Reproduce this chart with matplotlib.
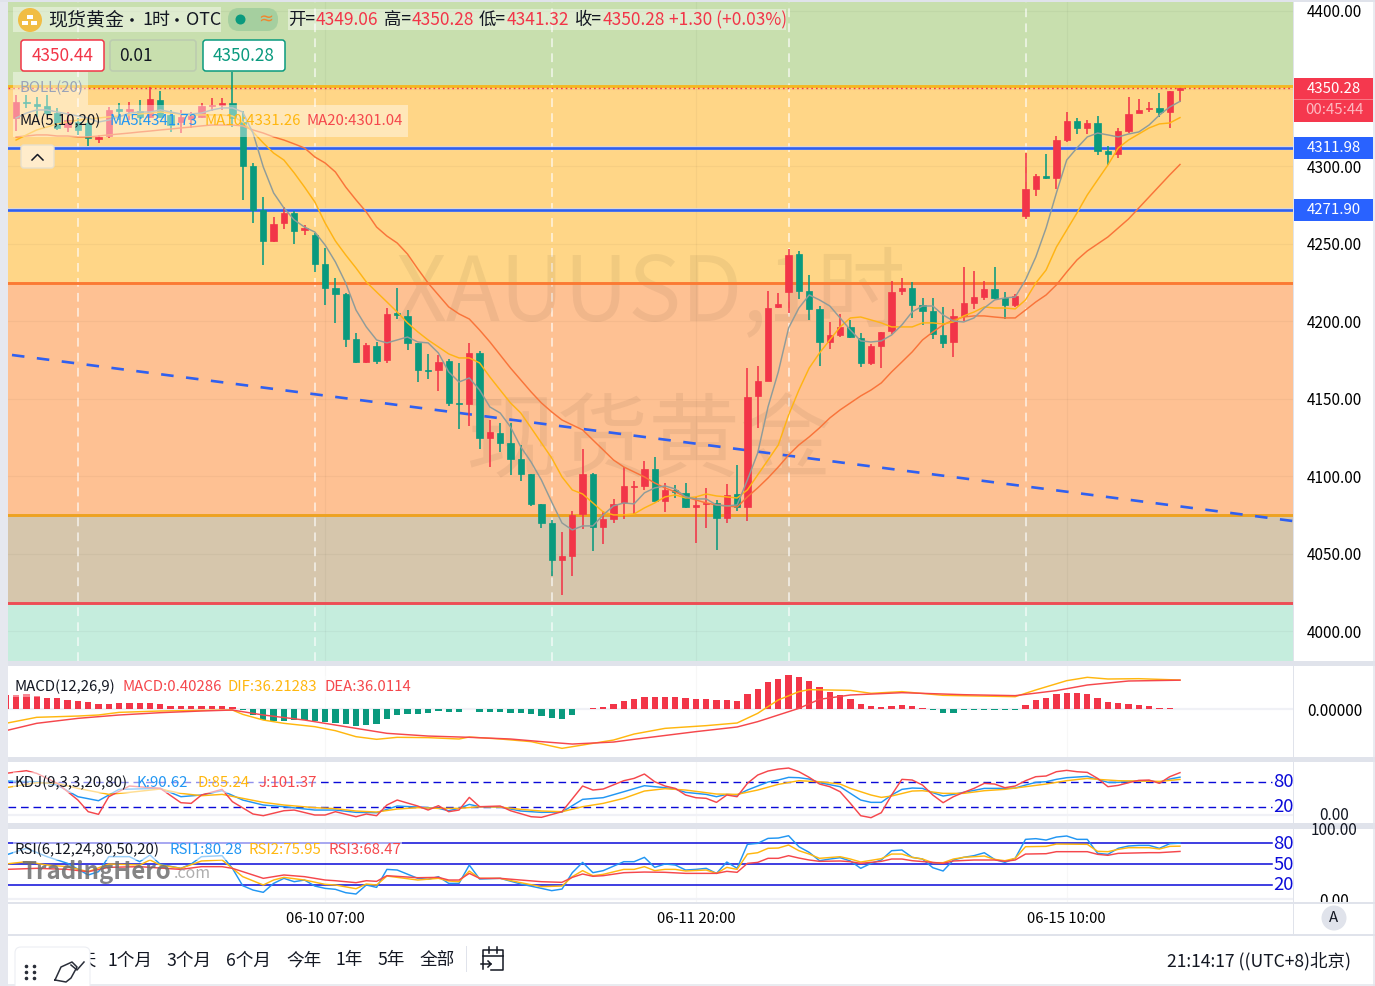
import matplotlib
matplotlib.use("Agg")
import matplotlib.pyplot as plt
import numpy as np
from matplotlib.patches import Rectangle, Circle, FancyBboxPatch

plt.rcParams['font.family'] = ['Noto Sans CJK SC', 'DejaVu Sans']
plt.rcParams['axes.unicode_minus'] = False

# hourly candles, XAUUSD
opens = [4331.0,4341.3,4340.0,4338.8,4334.2,4325.2,4328.4,4327.8,4317.7,4319.4,
	4336.5,4335.5,4335.5,4331.9,4342.6,4332.9,4328.4,4330.4,4331.7,4338.9,
	4339.7,4340.7,4328.4,4300.3,4271.7,4251.9,4263.3,4269.8,4258.8,4255.6,
	4236.9,4221.6,4217.8,4188.5,4173.7,4184.2,4175.0,4205.1,4203.4,4185.8,
	4168.6,4168.7,4174.2,4147.1,4146.8,4179.3,4124.5,4128.1,4121.3,4111.2,
	4101.3,4082.2,4070.1,4046.1,4048.6,4075.7,4101.5,4067.5,4072.5,4082.6,
	4093.3,4094.0,4104.5,4084.1,4091.2,4089.1,4080.2,4082.0,4082.6,4073.1,
	4088.4,4080.1,4151.8,4161.7,4209.0,4219.0,4243.1,4219.5,4207.9,4186.6,
	4191.1,4196.5,4189.4,4173.2,4184.2,4193.9,4219.5,4221.2,4210.7,4206.6,
	4191.1,4186.8,4203.4,4211.6,4215.6,4220.8,4215.0,4210.3,4267.8,4285.2,
	4293.4,4292.3,4316.6,4329.1,4324.8,4327.8,4309.7,4308.0,4322.6,4334.0,
	4336.6,4337.5,4335.1,4349.06]
closes = [4341.5,4340.7,4338.9,4334.4,4324.6,4329.7,4323.3,4317.8,4319.0,4336.2,
	4335.7,4336.5,4331.9,4343.3,4331.7,4326.5,4331.7,4332.3,4338.8,4339.7,
	4340.7,4331.0,4300.3,4271.7,4251.9,4262.7,4269.8,4258.2,4260.1,4236.9,
	4221.6,4217.8,4188.7,4173.9,4184.5,4174.4,4204.7,4203.8,4186.2,4168.6,
	4168.1,4173.9,4147.1,4146.4,4179.3,4124.5,4128.6,4121.7,4111.4,4101.3,
	4082.2,4070.1,4046.1,4048.6,4075.3,4101.5,4067.5,4072.3,4082.2,4093.8,
	4094.0,4104.5,4084.1,4091.2,4089.7,4080.1,4081.3,4082.6,4073.1,4088.0,
	4080.1,4151.3,4161.5,4208.7,4210.9,4242.7,4219.7,4207.9,4186.6,4191.1,
	4196.5,4189.6,4173.2,4184.0,4193.2,4218.8,4221.2,4210.7,4206.8,4191.6,
	4185.8,4203.4,4211.6,4215.4,4220.8,4215.2,4210.4,4216.3,4285.0,4293.6,
	4292.5,4316.6,4329.3,4324.8,4327.8,4309.9,4308.0,4322.6,4333.8,4336.2,
	4337.5,4334.9,4348.4,4350.28]
highs = [4345.8,4345.8,4344.6,4345.8,4337.5,4334.9,4331.0,4331.0,4320.1,4338.3,
	4340.7,4341.3,4342.6,4351.0,4348.4,4336.2,4336.2,4334.9,4340.7,4343.6,
	4343.9,4360.7,4335.5,4302.0,4280.3,4267.4,4273.8,4271.2,4262.0,4256.9,
	4247.2,4227.9,4218.2,4192.4,4186.0,4186.8,4208.5,4221.2,4207.2,4186.2,
	4178.9,4178.0,4175.5,4173.2,4185.8,4180.6,4136.3,4134.6,4134.6,4120.0,
	4101.5,4082.2,4071.8,4064.1,4077.5,4117.4,4102.0,4077.8,4085.6,4105.8,
	4096.8,4110.1,4112.3,4095.9,4094.2,4095.5,4086.5,4092.3,4084.7,4095.0,
	4107.1,4169.6,4171.1,4219.5,4218.0,4246.4,4245.3,4229.8,4210.0,4199.5,
	4204.5,4200.8,4192.2,4185.3,4193.2,4225.7,4227.7,4225.1,4214.8,4214.8,
	4209.4,4207.9,4235.2,4232.4,4225.9,4235.2,4218.6,4217.4,4308.7,4294.9,
	4307.8,4319.4,4334.9,4330.8,4329.7,4332.5,4313.0,4324.8,4344.7,4343.1,
	4341.3,4346.9,4348.6,4350.28]
lows = [4322.6,4337.5,4331.7,4332.9,4323.3,4322.0,4320.1,4313.0,4314.9,4318.1,
	4329.7,4329.7,4326.5,4331.0,4331.0,4322.0,4321.3,4324.6,4331.0,4335.5,
	4336.2,4325.2,4278.1,4263.3,4236.2,4251.3,4259.5,4249.8,4255.6,4231.9,
	4210.4,4199.0,4183.6,4173.2,4173.2,4172.4,4173.2,4201.4,4181.4,4161.0,
	4162.7,4155.2,4145.5,4130.3,4132.6,4117.6,4106.2,4115.7,4100.7,4096.8,
	4081.1,4066.9,4035.7,4023.5,4035.7,4066.2,4052.0,4056.4,4069.7,4072.7,
	4075.7,4091.2,4084.1,4077.0,4086.2,4079.6,4057.2,4066.7,4052.5,4070.1,
	4077.8,4071.4,4131.0,4161.7,4208.3,4205.1,4214.1,4200.8,4171.3,4182.3,
	4189.6,4189.0,4170.7,4172.0,4170.0,4191.8,4217.1,4201.9,4197.4,4188.3,
	4182.5,4177.1,4200.3,4207.9,4213.7,4214.1,4201.6,4209.4,4265.7,4280.9,
	4291.7,4285.0,4315.7,4320.7,4320.7,4307.4,4300.7,4305.2,4321.5,4334.0,
	4335.1,4331.9,4324.4,4341.32]

ma5 = [4331.0,4334.2,4336.2,4336.2,4334.9,4333.6,4332.3,4331.0,4328.4,4329.7,
	4331.7,4334.2,4334.9,4334.9,4336.2,4334.9,4333.6,4333.6,4334.2,4336.2,
	4337.5,4337.5,4334.9,4321.3,4299.4,4282.7,4273.0,4265.3,4260.7,4257.5,
	4249.1,4238.2,4224.6,4207.2,4196.3,4187.9,4186.0,4187.9,4189.8,4186.6,
	4186.0,4179.5,4167.3,4160.8,4163.4,4155.6,4144.7,4140.8,4131.8,4118.9,
	4109.2,4097.6,4083.4,4069.9,4065.4,4068.0,4068.0,4075.1,4080.9,4082.8,
	4082.2,4089.3,4092.5,4093.8,4091.8,4086.7,4085.4,4085.4,4081.5,4080.9,
	4081.5,4097.6,4115.0,4144.7,4167.3,4195.6,4208.5,4216.9,4213.7,4209.8,
	4202.1,4194.3,4187.3,4186.6,4187.3,4191.1,4197.6,4206.0,4209.8,4209.8,
	4204.0,4200.1,4199.5,4202.1,4208.5,4213.7,4215.0,4215.6,4226.6,4241.4,
	4260.1,4282.7,4303.9,4311.7,4318.8,4321.3,4320.1,4318.8,4320.7,4322.0,
	4326.5,4332.9,4338.1,4341.73]
ma10 = [4316.8,4320.1,4323.3,4325.2,4327.2,4328.4,4329.7,4330.4,4331.0,4331.7,
	4332.3,4333.0,4333.6,4334.2,4334.9,4334.2,4333.6,4333.0,4333.0,4333.0,
	4333.0,4332.3,4328.4,4322.0,4314.9,4308.4,4303.9,4295.6,4286.5,4276.9,
	4263.3,4251.7,4242.7,4234.3,4225.3,4218.8,4212.4,4205.9,4198.9,4193.1,
	4187.9,4183.4,4178.9,4176.3,4176.3,4173.1,4164.0,4155.6,4147.3,4140.8,
	4131.2,4121.5,4111.8,4099.6,4091.2,4088.6,4082.8,4077.0,4075.1,4075.1,
	4075.7,4079.6,4082.8,4086.7,4088.0,4086.0,4086.7,4088.6,4087.3,4086.7,
	4086.0,4091.2,4100.9,4110.5,4120.2,4139.5,4155.6,4169.8,4179.5,4187.9,
	4196.3,4202.1,4202.7,4200.8,4198.9,4196.3,4196.3,4196.3,4198.9,4198.9,
	4198.2,4199.5,4203.4,4205.9,4209.2,4208.5,4208.5,4207.9,4213.7,4224.6,
	4233.0,4247.8,4258.8,4269.8,4281.4,4291.1,4300.7,4311.7,4316.8,4320.7,
	4324.6,4327.2,4327.8,4331.26]
ma20 = [4318.8,4319.4,4320.1,4320.1,4319.4,4319.4,4318.8,4318.8,4319.4,4320.1,
	4320.7,4321.3,4322.0,4322.6,4323.3,4323.9,4324.6,4325.2,4325.9,4326.5,
	4326.5,4326.5,4325.9,4323.3,4321.3,4318.8,4316.8,4314.3,4311.7,4305.9,
	4302.0,4296.2,4286.5,4278.2,4270.4,4260.7,4254.9,4250.4,4243.3,4233.7,
	4224.6,4216.9,4209.2,4204.7,4201.4,4194.3,4186.6,4178.2,4169.8,4162.1,
	4154.4,4147.3,4141.5,4136.3,4133.1,4129.9,4123.4,4117.0,4110.5,4106.0,
	4102.8,4099.6,4095.7,4092.5,4089.9,4086.7,4084.7,4082.8,4081.5,4080.9,
	4080.2,4086.7,4092.5,4098.9,4106.0,4113.7,4120.2,4125.4,4131.2,4137.6,
	4142.8,4147.3,4151.8,4155.6,4160.2,4167.3,4173.7,4180.2,4187.9,4193.0,
	4197.6,4200.8,4202.7,4203.4,4203.4,4202.7,4202.1,4202.1,4207.2,4212.4,
	4216.9,4223.4,4231.7,4239.5,4245.3,4249.8,4254.3,4260.1,4265.9,4273.0,
	4280.1,4287.2,4294.3,4301.04]

macd_hist = [17.5,18.3,16.7,14.2,13.3,11.3,10.0,8.3,6.7,6.7,7.5,7.5,7.5,7.5,5.8,4.2,3.3,3.8,3.8,4.2,
	4.2,2.9,-1.3,-7.5,-13.8,-15.0,-15.0,-13.8,-13.8,-14.6,-16.3,-17.9,-18.8,-21.3,-20.0,-18.8,-12.9,-7.5,-5.8,-5.8,
	-5.4,-2.5,-4.2,-4.2,0.4,-3.3,-3.3,-4.2,-4.6,-5.4,-6.7,-9.2,-11.7,-12.1,-7.5,0.4,0.8,2.5,5.8,10.0,
	12.5,15.4,15.4,15.4,15.4,13.3,12.5,12.1,10.8,10.8,10.0,18.8,24.6,33.3,37.5,42.5,40.4,35.4,27.9,21.7,
	17.5,12.5,6.3,3.3,2.1,4.2,5.0,3.3,0.8,-1.3,-4.6,-4.6,-1.3,-1.3,-1.3,-1.3,-1.3,-1.3,5.0,11.3,
	13.3,18.3,20.4,19.6,18.3,13.3,8.8,7.5,6.3,4.6,3.3,0.8,0.8,0.40]
macd_dif = [(-1,-17.9),(2,-10.4),(6,-8.8),(8,-7.5),(10,-4.2),(14,-2.5),(18,-1.7),(21,-1.3),(22,-6.7),(24,-13.8),
	(26,-17.9),(29,-22.1),(31,-27.1),(33,-34.6),(35,-37.9),(37,-35.4),(40,-35.8),(43,-37.5),(44,-35.0),(47,-37.5),
	(50,-40.8),(53,-49.2),(55,-45.0),(58,-38.8),(60,-31.3),(63,-24.2),(67,-20.8),(70,-17.5),(72,-5.4),(74,11.3),
	(76,21.7),(77,24.2),(81,23.3),(83,19.6),(86,21.7),(90,17.1),(97,15.4),(99,23.8),(102,35.4),(104,39.6),
	(106,37.5),(109,37.9),(113,36.21)]
macd_dea = [(-1,-27.1),(2,-17.9),(6,-11.7),(10,-7.5),(14,-4.6),(18,-2.5),(21,-1.3),(24,-7.5),(28,-13.8),(32,-22.1),
	(36,-30.4),(40,-33.8),(44,-35.4),(48,-37.5),(51,-40.8),(54,-43.8),(58,-41.3),(60,-37.9),(66,-28.3),(70,-22.5),
	(72,-15.8),(76,0.8),(78,12.1),(81,17.5),(86,20.4),(92,17.9),(97,16.7),(101,23.0),(104,30.0),(108,35.0),(113,36.01)]

kdj_k = [(-1,81.5),(2,79.9),(4,72.0),(6,44.4),(8,34.9),(10,61.8),(14,64.1),(16,44.4),(18,48.4),(20,58.6),
	(22,36.5),(24,24.7),(26,20.7),(29,12.8),(31,12.8),(33,7.3),(35,6.5),(37,22.3),(39,19.9),(41,16.8),
	(42,11.2),(43,16.8),(44,26.2),(45,20.7),(47,19.9),(49,10.5),(51,7.3),(53,8.1),(55,38.1),(57,42.1),
	(59,56.2),(61,70.5),(63,65.7),(64,62.6),(65,54.7),(67,49.9),(68,44.4),(69,49.9),(70,48.4),(71,60.2),
	(72,69.7),(73,79.1),(74,83.9),(75,90.2),(76,89.4),(77,86.2),(78,77.6),(80,68.1),(81,52.3),(82,36.5),
	(83,31.0),(84,31.0),(85,48.4),(86,61.8),(87,64.9),(88,64.1),(89,53.9),(90,46.0),(91,49.9),(92,54.7),
	(94,64.1),(96,64.1),(97,64.9),(98,72.0),(99,78.4),(100,79.9),(101,85.5),(102,89.4),(104,92.6),(105,85.5),
	(106,78.4),(107,78.4),(108,80.7),(110,82.3),(111,78.4),(112,86.2),(113,90.62)]
kdj_d = [(-1,65.7),(2,77.6),(4,76.0),(6,64.1),(9,49.9),(11,54.7),(14,62.6),(16,52.3),(18,46.8),(20,49.9),
	(22,40.5),(24,31.0),(26,24.7),(29,18.4),(31,16.0),(33,10.5),(35,8.1),(37,15.2),(39,18.4),(41,16.8),
	(43,16.8),(45,20.7),(47,19.9),(49,14.4),(51,10.5),(53,8.9),(55,20.7),(57,28.6),(59,40.5),(61,57.8),
	(63,63.4),(65,60.2),(67,53.9),(68,50.7),(70,49.9),(72,60.2),(74,73.6),(76,82.3),(78,79.9),(80,74.4),
	(81,64.1),(83,48.4),(84,42.8),(85,46.0),(87,57.8),(88,58.6),(90,52.3),(92,52.3),(94,58.6),(96,61.8),
	(98,68.1),(100,74.4),(102,82.3),(104,87.8),(105,85.5),(107,82.3),(109,81.5),(111,80.7),(113,85.24)]
kdj_j = [(-1,99.7),(1,106.0),(2,99.7),(4,76.0),(6,36.5),(7,8.9),(8,2.6),(9,44.4),(11,69.7),(14,64.1),
	(16,30.2),(17,28.6),(18,48.4),(20,61.8),(21,32.6),(23,3.4),(24,-0.6),(26,11.2),(27,12.8),(29,1.0),
	(30,1.0),(31,8.9),(33,-3.0),(34,3.4),(35,-0.6),(36,24.7),(37,36.5),(39,22.3),(40,12.8),(41,23.1),
	(42,8.9),(43,12.8),(44,42.8),(45,20.7),(47,22.3),(48,11.2),(50,-3.0),(51,-4.5),(53,8.9),(55,69.7),
	(56,60.2),(57,62.6),(59,82.3),(60,87.8),(61,98.1),(62,79.9),(63,69.7),(64,64.1),(65,48.4),(66,42.0),
	(67,40.5),(68,31.0),(69,48.4),(70,44.4),(71,76.0),(72,95.7),(73,105.2),(74,109.9),(75,112.3),(76,103.6),
	(77,90.2),(78,74.4),(79,68.1),(80,56.2),(81,28.6),(82,-0.6),(83,-5.3),(84,6.5),(85,48.4),(86,85.5),
	(87,83.9),(88,72.0),(89,48.4),(90,30.2),(91,44.4),(92,54.7),(93,64.1),(94,76.0),(95,74.4),(96,65.7),
	(97,69.7),(98,82.3),(99,91.8),(100,93.4),(101,103.6),(102,106.8),(103,103.6),(104,102.0),(105,87.8),(106,68.1),
	(107,71.2),(108,77.6),(109,83.1),(110,83.9),(111,76.0),(112,91.8),(113,101.37)]

rsi1 = [(-1,63.3),(1,72.9),(3,61.0),(5,51.4),(7,34.8),(8,39.5),(9,61.0),(11,61.0),(12,53.8),(13,63.3),
	(14,50.0),(16,44.3),(17,50.5),(18,61.0),(20,62.4),(21,44.3),(22,19.5),(23,13.3),(24,10.0),(25,22.8),
	(26,30.0),(27,25.2),(28,27.6),(29,19.0),(30,15.7),(31,14.3),(32,9.5),(33,7.6),(34,20.5),(35,17.1),
	(36,42.8),(37,41.9),(39,30.0),(40,28.6),(41,32.4),(42,22.8),(43,22.8),(44,49.0),(45,29.0),(47,30.0),
	(49,21.9),(51,15.7),(52,12.4),(53,14.7),(54,38.1),(55,52.8),(56,38.1),(57,41.0),(59,53.8),(60,53.8),
	(61,60.0),(62,45.7),(63,50.5),(64,49.0),(65,41.9),(66,42.8),(67,44.3),(68,37.1),(69,53.3),(70,44.3),
	(71,78.6),(72,80.0),(73,87.1),(74,87.6),(75,90.9),(76,75.2),(77,67.1),(78,55.2),(79,57.6),(80,59.5),
	(81,54.8),(82,44.3),(83,51.4),(84,56.2),(85,69.5),(86,70.5),(87,60.0),(88,57.6),(89,45.2),(90,40.5),
	(91,56.2),(92,60.0),(93,62.4),(94,66.6),(95,57.1),(96,52.8),(97,58.6),(98,85.7),(99,86.7),(100,84.7),
	(101,89.0),(102,90.5),(103,85.7),(104,85.7),(105,65.7),(106,64.3),(107,72.9),(108,76.2),(109,77.1),(110,77.1),
	(111,72.9),(112,79.5),(113,80.28)]
rsi2 = [(-1,50.5),(1,53.8),(3,49.0),(5,46.7),(7,39.5),(9,50.5),(12,49.0),(13,56.2),(14,49.0),(16,44.3),
	(18,54.8),(20,56.2),(21,44.3),(22,32.4),(24,20.5),(25,27.6),(26,31.4),(28,27.6),(30,21.4),(31,20.5),
	(33,15.2),(34,21.9),(35,20.5),(36,33.3),(39,27.6),(41,30.0),(42,26.2),(43,25.2),(44,40.5),(45,30.0),
	(47,30.0),(49,23.8),(51,18.1),(53,19.0),(54,32.4),(55,41.0),(56,33.8),(57,35.7),(59,42.8),(60,42.8),
	(61,46.7),(62,41.0),(63,42.8),(64,42.8),(65,40.5),(67,41.9),(68,37.1),(69,45.7),(70,42.8),(71,64.7),
	(72,66.6),(73,72.9),(74,73.3),(75,77.6),(76,69.5),(77,64.7),(78,58.6),(80,60.9),(81,57.6),(82,53.3),
	(84,58.1),(85,64.7),(86,64.7),(87,60.0),(88,57.6),(89,52.4),(90,52.4),(91,57.6),(92,60.0),(94,61.9),
	(95,57.1),(96,55.2),(97,58.6),(98,75.2),(100,75.7),(101,79.0),(104,78.6),(105,68.6),(106,68.1),(107,71.4),
	(108,73.8),(110,73.8),(111,71.9),(112,75.7),(113,75.95)]
rsi3 = [(-1,42.8),(2,44.3),(5,42.8),(7,39.5),(9,45.7),(12,46.7),(14,44.7),(16,42.8),(18,46.7),(20,46.7),
	(21,44.3),(23,34.8),(24,30.0),(26,34.8),(28,32.4),(30,27.6),(31,26.6),(33,23.8),(34,26.6),(35,25.7),
	(36,33.8),(39,30.9),(41,31.4),(42,27.6),(43,27.6),(44,37.1),(45,30.0),(47,30.0),(49,27.6),(51,25.2),
	(53,24.3),(54,31.4),(55,36.2),(56,32.9),(57,33.8),(59,38.1),(61,39.0),(63,38.6),(65,37.1),(68,37.1),
	(69,40.0),(70,38.6),(71,51.4),(72,52.8),(73,58.6),(74,58.6),(75,62.4),(76,59.0),(77,56.2),(78,54.3),
	(80,54.8),(81,53.8),(82,51.4),(84,54.3),(85,57.6),(86,57.6),(87,55.2),(89,52.8),(90,51.4),(91,54.8),
	(93,56.2),(95,56.2),(96,54.3),(97,56.2),(98,64.7),(100,65.2),(101,68.1),(104,68.1),(105,64.3),(106,62.9),
	(107,65.7),(110,66.7),(111,66.7),(113,68.47)]

# drawn levels and bands
band_edges = [4405.8, 4351.8, 4224.3, 4074.9, 4018.0, 3980.9]
band_colors = ['#c8dfae', '#ffd687', '#fec193', '#d6c6ac', '#c5eddd']
level_prices = [4351.8, 4224.3, 4074.9, 4018.0]
level_colors = ['#f4b822', '#fb7a33', '#eda221', '#ee4d55']
support_prices = [4311.98, 4271.90]
last_price = 4350.28
trend_x = [-0.4, 123.9]
trend_y = [4178.2, 4071.2]
price_ticks = [4000, 4050, 4100, 4150, 4200, 4250, 4300, 4350, 4400]
day_breaks = [6, 29, 52, 75, 98]
time_ticks = [30, 66, 102]
time_labels = ['06-10 07:00', '06-11 20:00', '06-15 10:00']

RED = '#f23548'
GREEN = '#0a9a7e'
BLUE = '#2196f3'
GOLD = '#ffb70f'
LINE_RED = '#f5474c'
SEP = '#e0e3eb'
W, H = 1375, 986

fig = plt.figure(figsize=(W / 100, H / 100), dpi=100, facecolor='white')


def pane(x0, y0, x1, y1, ylim):
	ax = fig.add_axes([x0 / W, 1 - y1 / H, (x1 - x0) / W, (y1 - y0) / H])
	ax.set_xlim((8 - 16.1) / 10.3, (1293 - 16.1) / 10.3)
	ax.set_ylim(*ylim)
	for s in ax.spines.values():
		s.set_visible(False)
	ax.set_xticks([])
	ax.yaxis.tick_right()
	ax.tick_params(axis='y', length=0, pad=29.8, labelsize=11)
	return ax


def draw_pairs(ax, pairs, color, lw=1.05):
	xs = [p[0] for p in pairs]
	ys = [p[1] for p in pairs]
	ax.plot(xs, ys, color=color, lw=lw, zorder=4, solid_joinstyle='round')


def center_ticks(ax):
	for lbl in ax.get_yticklabels():
		lbl.set_ha('center')


idx = np.arange(len(closes))

# main price pane
ax = pane(8, 2, 1293, 661, (3980.9, 4405.8))
for i in range(len(band_colors)):
	ax.axhspan(band_edges[i + 1], band_edges[i], color=band_colors[i], lw=0, zorder=0)
for p in price_ticks:
	ax.axhline(p, color='#000000', alpha=0.035, lw=0.9, zorder=0.5)
for t in time_ticks:
	ax.axvline(t, color='#000000', alpha=0.035, lw=0.9, zorder=0.5)
for d in day_breaks:
	ax.axvline(d, color='#ffffff', alpha=0.6, lw=1.4, dashes=(4.5, 3.2), zorder=0.6)

ax.text(36.8, 4200.8, 'XAUUSD,1时', fontsize=64, color='#000000', alpha=0.055, ha='left', va='baseline', zorder=0.7)
ax.text(43.6, 4104, '现货黄金', fontsize=66, color='#000000', alpha=0.055, ha='left', va='baseline', zorder=0.7)

for p, c in zip(level_prices, level_colors):
	ax.axhline(p, color=c, lw=2.1, zorder=1)
for p in support_prices:
	ax.axhline(p, color='#cfd8f5', lw=3.0, alpha=0.7, zorder=1)
	ax.axhline(p, color='#2f60f0', lw=1.9, zorder=1.1)
ax.plot(trend_x, trend_y, color='#2f60f0', lw=1.9, dashes=(4.75, 4.75), zorder=1.2)
ax.axhline(last_price, color='#f23548', lw=1.0, dashes=(1.2, 2.2), zorder=1.3)

colors = [RED if c >= o else GREEN for o, c in zip(opens, closes)]
ax.vlines(idx, lows, highs, colors=colors, lw=1.15, zorder=2)
bottoms = [min(o, c) for o, c in zip(opens, closes)]
heights = [abs(o - c) for o, c in zip(opens, closes)]
ax.bar(idx, heights, bottom=bottoms, width=0.62, color=colors, edgecolor=colors, lw=0.5, zorder=3)

ax.plot(idx, ma20, color='#f9743a', lw=1.05, zorder=4)
ax.plot(idx, ma10, color='#ffb414', lw=1.05, zorder=4)
ax.plot(idx, ma5, color='#8f9c9a', lw=1.05, zorder=4)

# 4350 sits under the last-price tag, so it gets no number
ax.set_yticks(price_ticks)
ax.set_yticklabels(['' if p == 4350 else '%.2f' % p for p in price_ticks])
center_ticks(ax)

# MACD pane
ax_macd = pane(8, 666, 1293, 757, (-60, 53.75))
ax_macd.axhline(0, color='#f0f1f6', lw=1.6, zorder=1)
hist_colors = [RED if v >= 0 else GREEN for v in macd_hist]
ax_macd.bar(idx, macd_hist, width=0.62, color=hist_colors, lw=0, zorder=2)
# bars left of the first candle, the series runs off the pane edge
ax_macd.bar([-1], [17.5], width=0.62, color=RED, lw=0, zorder=2)
draw_pairs(ax_macd, macd_dif, GOLD)
draw_pairs(ax_macd, macd_dea, LINE_RED)
ax_macd.set_yticks([0])
ax_macd.set_yticklabels(['0.00000'])
center_ticks(ax_macd)
for t in time_ticks:
	ax_macd.axvline(t, color='#000000', alpha=0.03, lw=0.9, zorder=0.5)

# KDJ pane
ax_kdj = pane(8, 762, 1293, 823, (-17.9, 126.6))
ax_kdj.axhline(0, color='#f0f1f6', lw=1.6, zorder=1)
for lvl in [80, 20]:
	ax_kdj.plot([-0.8, 121.9], [lvl, lvl], color='#0a0ad8', lw=1.0, dashes=(5.5, 3.5), zorder=2)
draw_pairs(ax_kdj, kdj_k, BLUE)
draw_pairs(ax_kdj, kdj_d, GOLD)
draw_pairs(ax_kdj, kdj_j, LINE_RED)
ax_kdj.set_yticks([])
for t in time_ticks:
	ax_kdj.axvline(t, color='#000000', alpha=0.03, lw=0.9, zorder=0.5)

# RSI pane
ax_rsi = pane(8, 829, 1293, 902, (-3.8, 100.5))
ax_rsi.axhline(0, color='#f0f1f6', lw=1.6, zorder=1)
for lvl in [80, 50, 20]:
	ax_rsi.plot([-0.8, 121.9], [lvl, lvl], color='#0a0ad8', lw=1.1, zorder=2)
draw_pairs(ax_rsi, rsi1, BLUE)
draw_pairs(ax_rsi, rsi2, GOLD)
draw_pairs(ax_rsi, rsi3, LINE_RED)
ax_rsi.set_yticks([0])
ax_rsi.set_yticklabels(['0.00'])
center_ticks(ax_rsi)
for t in time_ticks:
	ax_rsi.axvline(t, color='#000000', alpha=0.03, lw=0.9, zorder=0.5)

# time axis strip sits over the bottom of the RSI labels
ax_time = pane(8, 903, 1375, 934, (0, 1))
ax_time.set_xlim((8 - 16.1) / 10.3, (1375 - 16.1) / 10.3)
ax_time.set_zorder(5)
ax_time.set_yticks([])
ax_time.set_xticks(time_ticks)
ax_time.set_xticklabels(time_labels, fontsize=10.7)
ax_time.tick_params(axis='x', length=0, pad=-16)

# overlay in pixel units for the chart furniture and legends
ov = fig.add_axes([0, 0, 1, 1], zorder=10)
ov.set_xlim(0, W)
ov.set_ylim(H, 0)
ov.axis('off')
ov.patch.set_alpha(0)


def rect(x0, y0, x1, y1, color, alpha=1.0, z=1):
	ov.add_patch(Rectangle((x0, y0), x1 - x0, y1 - y0, facecolor=color, edgecolor='none', alpha=alpha, zorder=z))


def rbox(x0, y0, x1, y1, face, edge, alpha=1.0, r=3, lw=1.0, z=2):
	ov.add_patch(FancyBboxPatch((x0 + r, y0 + r), x1 - x0 - 2 * r, y1 - y0 - 2 * r, boxstyle='round,pad=%d,rounding_size=%d' % (r, r),
		facecolor=face, edgecolor=edge, alpha=alpha, lw=lw, zorder=z))


def label(x, y, s, color='#131722', size=15, ha='left', z=5, **kw):
	ov.text(x, y + 1, s, color=color, fontsize=size * 0.72, ha=ha, va='center', zorder=z, **kw)


# separators
rect(0, 0, 1375, 2, SEP)
rect(0, 0, 8, 986, SEP, 0.8)
rect(8, 661, 1375, 666, SEP)
rect(8, 757, 1375, 762, SEP)
rect(8, 823, 1375, 829, SEP)
rect(8, 902, 1375, 904, SEP)
rect(8, 934, 1375, 936, SEP)
rect(1293, 0, 1294.5, 934, SEP)
rect(1373, 0, 1375, 986, SEP, 0.7)
rect(8, 984, 1375, 986, SEP, 0.7)

# translucent legend backs
rect(13, 7, 221, 32, '#ffffff', 0.42)
rect(288, 9, 786, 30, '#ffffff', 0.42)
rect(13, 72, 88, 105, '#ffffff', 0.42)
rect(13, 105, 408, 137, '#ffffff', 0.42)
rect(13, 676, 410, 697, '#ffffff', 0.42)
rect(13, 772, 320, 793, '#ffffff', 0.55)
rect(13, 840, 402, 860, '#ffffff', 0.55)

# symbol header
ov.add_patch(Circle((30, 20), 12, facecolor='#f1bd44', edgecolor='none', zorder=3))
rect(27, 15, 33, 19, '#ffffff', z=4)
rect(22.5, 21, 28.5, 25, '#ffffff', z=4)
rect(31, 21, 37, 25, '#ffffff', z=4)
label(48, 19, '现货黄金', size=19)
ov.add_patch(Circle((132, 20), 1.8, facecolor='#131722', edgecolor='none', zorder=5))
label(142, 19, '1时', size=18)
ov.add_patch(Circle((177, 20), 1.8, facecolor='#131722', edgecolor='none', zorder=5))
label(186, 19, 'OTC', size=18)
rbox(228, 8, 278, 31, '#a5cf9f', 'none', r=11, lw=0)
ov.add_patch(Circle((240.5, 19.5), 5, facecolor='#0a9a7e', edgecolor='none', zorder=3))
label(266, 18, '≈', color='#f0862e', size=18, ha='center', family=['DejaVu Sans'])
for x, s in zip([288, 384, 479, 575], ['开=', '高=', '低=', '收=']):
	label(x, 19, s, size=17.4)
for x, s in zip([316, 412, 507, 603, 669], ['4349.06', '4350.28', '4341.32', '4350.28', '+1.30 (+0.03%)']):
	label(x, 19, s, color=RED, size=17.4)

# bid, spread, ask
rbox(21, 40, 104, 71, '#ffffff', RED, r=3, lw=1.1)
label(62.5, 55, '4350.44', color=RED, size=17.2, ha='center')
rbox(110, 40, 196, 71, 'none', '#bccbb0', r=3, lw=1.1)
label(119, 55, '0.01', size=17.2)
rbox(203, 40, 285, 71, '#ffffff', GREEN, r=3, lw=1.1)
label(244, 55, '4350.28', color=GREEN, size=17.2, ha='center')

# indicator legends
label(20, 87, 'BOLL(20)', color='#9aa3b8')
label(20, 120, 'MA(5,10,20)')
label(110, 120, 'MA5:4341.73', color=BLUE)
label(205, 120, 'MA10:4331.26', color=GOLD)
label(307, 120, 'MA20:4301.04', color=LINE_RED)
rbox(21, 145, 54, 168, '#ffeccb', '#e8e0cd', r=3, lw=1.0)
ov.plot([32, 37.5, 43], [160, 154.5, 160], color='#131722', lw=1.1, zorder=5)

label(15, 686, 'MACD(12,26,9)')
label(123, 686, 'MACD:0.40286', color=LINE_RED)
label(228, 686, 'DIF:36.21283', color=GOLD)
label(325, 686, 'DEA:36.0114', color=LINE_RED)
label(15, 782, 'KDJ(9,3,3,20,80)')
label(137, 782, 'K:90.62', color=BLUE)
label(198, 782, 'D:85.24', color=GOLD)
label(258, 782, 'J:101.37', color=LINE_RED)
label(15, 849, 'RSI(6,12,24,80,50,20)')
label(170, 849, 'RSI1:80.28', color=BLUE)
label(249, 849, 'RSI2:75.95', color=GOLD)
label(329, 849, 'RSI3:68.47', color=LINE_RED)

# level numbers drawn inside the indicator panes
for y, s in zip([781, 806, 843, 864, 884.5], ['80', '20', '80', '50', '20']):
	label(1283.5, y, s, color='#0a0ad8', size=18.5, ha='center')
label(1334, 814, '0.00', size=15.2, ha='center')
label(1334, 829.5, '100.00', size=15.2, ha='center')

# site mark over the RSI pane
label(21, 871, 'TradingHero', color='#6e6e6e', size=24, z=3, fontweight='bold', alpha=0.85)
label(174, 873, '.com', color='#9a9a9a', size=16, z=3, alpha=0.8)

# price tags on the axis
rect(1294, 78, 1373, 122, '#f5384e')
rect(1294, 99, 1373, 99.8, '#f97a86')
label(1334, 88, '4350.28', color='#ffffff', ha='center')
label(1334, 109.5, '00:45:44', color='#fdb8c0', ha='center')
rect(1294, 137, 1373, 159, '#2962ff')
label(1334, 147, '4311.98', color='#ffffff', ha='center')
rect(1294, 199, 1373, 221, '#2962ff')
label(1334, 209, '4271.90', color='#ffffff', ha='center')

ov.add_patch(Circle((1334, 918), 12.5, facecolor=SEP, edgecolor='none', zorder=3))
label(1334, 916.5, 'A', ha='center', size=15)

# toolbar at the bottom
for x, s in zip([130.5, 189.5, 248.5, 304, 349, 391, 437], ['1个月', '3个月', '6个月', '今年', '1年', '5年', '全部']):
	label(x, 959.5, s, size=17.6, ha='center')
label(83, 959.5, '5天', size=17.6, ha='center', z=1)
rect(466.5, 946, 467.5, 972, SEP)
ov.plot([483, 483, 503, 503, 491], [969, 950, 950, 970, 970], color='#131722', lw=1.1, zorder=5)
ov.plot([483, 503], [956, 956], color='#131722', lw=1.1, zorder=5)
ov.plot([489, 489], [947, 953], color='#131722', lw=1.1, zorder=5)
ov.plot([497, 497], [947, 953], color='#131722', lw=1.1, zorder=5)
ov.plot([481, 491, 488], [964, 964, 961], color='#131722', lw=1.1, zorder=5)
ov.plot([491, 488], [964, 967], color='#131722', lw=1.1, zorder=5)
label(1351, 960, '21:14:17 ((UTC+8)北京)', size=17.5, ha='right')

# floating drawing-tools panel covers the left of the toolbar
rbox(15, 947, 90, 996, '#ffffff', '#eceef3', r=6, lw=0.8, z=6)
dots_x = [26, 34, 26, 34, 26, 34]
dots_y = [966, 966, 972, 972, 978, 978]
ov.scatter(dots_x, dots_y, s=2.5, color='#2a2e39', zorder=7)
ov.plot([55, 61, 72, 77, 71, 66, 55], [980, 967, 962, 967, 978, 982, 980], color='#2a2e39', lw=1.1, zorder=7)
ov.plot([71, 77, 84], [965, 970, 962], color='#2a2e39', lw=1.1, zorder=7)

fig.savefig('out.png', dpi=100)
